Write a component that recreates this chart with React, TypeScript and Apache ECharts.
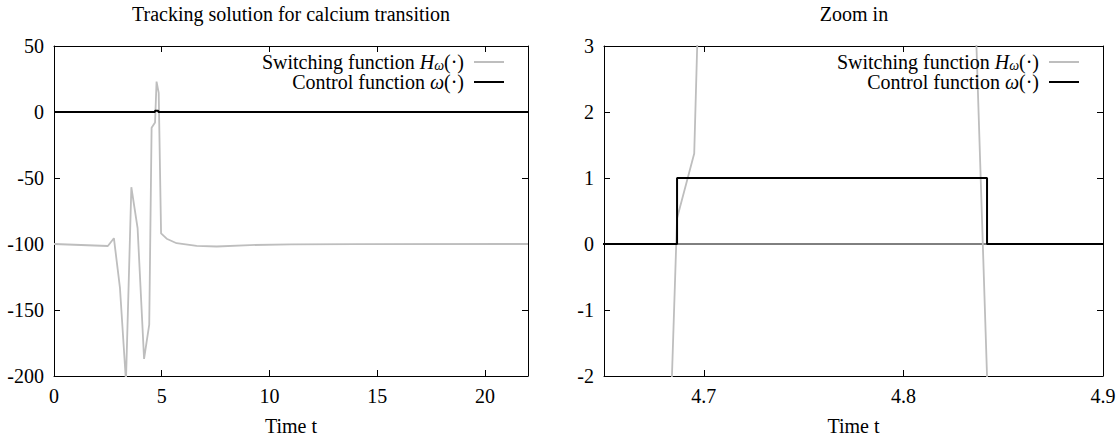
import React, { useEffect, useRef } from 'react';
import * as echarts from 'echarts';

const titles = ['Tracking solution for calcium transition', 'Zoom in'];
const xAxisName = 'Time t';
const seriesNames = ['Switching function', 'Control function'];

// Switching function H_ω over the whole time horizon
const switchT = [0, 2.5, 2.78, 3.06, 3.34, 3.59, 3.88, 4.18, 4.42, 4.53, 4.69, 4.76, 4.86, 4.97, 5.23, 5.69, 6.62, 7.55, 9.1, 11, 14, 22];
const switchH = [-100, -101.5, -95.6, -133, -204, -57, -88, -187, -161, -12, -8, 23, 14.5, -92, -96, -99.4, -101.4, -101.9, -100.8, -100.3, -100.1, -100];

// Finer samples of H_ω around the switching interval
const zoomT = [4.6755, 4.6866, 4.6952, 4.7031, 4.76, 4.8313, 4.8472];
const zoomH = [-10, 0.39, 1.37, 10, 23, 8, -7];

// Bang-bang control ω: switched on between the two switching times
const controlT = [0, 4.6866, 4.6866, 4.8419, 4.8419, 22];
const controlW = [0, 0, 1, 1, 0, 0];

// Zero axis of the zoomed panel
const zeroT = [4.65, 4.9];
const zeroV = [0, 0];

const fullRangeX = [0, 22];
const fullRangeY = [-200, 50];
const zoomRangeX = [4.65, 4.9];
const zoomRangeY = [-2, 3];
const fullXTicks = [0, 5, 10, 15, 20];
const zoomXTicks = [4.7, 4.8, 4.9];

const FONT = "'Liberation Serif', serif";
const FS = 20;
const GREY = '#bebebe';

const pairs = (xs: number[], ys: number[]) => xs.map((x, i) => [x, ys[i]]);

export default function App() {
  const ref = useRef<HTMLDivElement>(null);

  useEffect(() => {
    if (!ref.current) return;
    const chart = echarts.init(ref.current, null, { renderer: 'svg' });

    const frame = { show: true, onZero: false, lineStyle: { color: '#000', width: 1 } };
    const tick = { show: true, inside: true, length: 6, lineStyle: { color: '#000', width: 1 } };
    const labelRich = { n: { fontFamily: FONT, fontSize: FS, color: '#000' } };
    const label = { fontFamily: FONT, fontSize: FS, color: '#000', rich: labelRich };

    const xPair = (grid: number, range: number[], ticks: number[], digits: number) => [
      {
        type: 'value', gridIndex: grid, position: 'bottom', min: range[0], max: range[1],
        axisLine: frame,
        axisTick: { ...tick, customValues: ticks },
        axisLabel: { ...label, margin: 10, customValues: ticks, formatter: (v: number) => `{n|${v.toFixed(digits)}}` },
        splitLine: { show: false },
        name: xAxisName, nameLocation: 'middle', nameGap: 40,
        nameTextStyle: { fontFamily: FONT, fontSize: FS, color: '#000' },
      },
      {
        type: 'value', gridIndex: grid, position: 'top', min: range[0], max: range[1],
        axisLine: frame,
        axisTick: { ...tick, customValues: ticks },
        axisLabel: { show: false },
        splitLine: { show: false },
      },
    ];

    const yPair = (grid: number, range: number[], interval: number) => [
      {
        type: 'value', gridIndex: grid, position: 'left', min: range[0], max: range[1], interval,
        axisLine: frame, axisTick: tick,
        axisLabel: { ...label, margin: 10, formatter: (v: number) => `{n|${v}}` },
        splitLine: { show: false },
      },
      {
        type: 'value', gridIndex: grid, position: 'right', min: range[0], max: range[1], interval,
        axisLine: frame, axisTick: tick,
        axisLabel: { show: false },
        splitLine: { show: false },
      },
    ];

    const legendText = (name: string) =>
      name === seriesNames[0]
        ? '{t|Switching function }{i|H}{s|ω}{t|(·)}{g| }'
        : '{t|Control function }{i|ω}{t|(·)}{g| }';

    const rich = {
      t: { fontFamily: FONT, fontSize: FS, lineHeight: 20, color: '#000' },
      i: { fontFamily: FONT, fontSize: FS, lineHeight: 20, fontStyle: 'italic', color: '#000' },
      s: { fontFamily: FONT, fontSize: 14, lineHeight: 8, fontStyle: 'italic', verticalAlign: 'bottom', color: '#000' },
      g: { fontFamily: FONT, fontSize: FS, lineHeight: 20, width: 5 },
    };

    const legend = (right: number) => ({
      orient: 'vertical', right, top: 52, padding: 0, itemGap: 0,
      align: 'right', icon: 'rect', itemWidth: 30, itemHeight: 2,
      selectedMode: false,
      data: [
        { name: seriesNames[0], itemStyle: { color: GREY } },
        { name: seriesNames[1], itemStyle: { color: '#000' } },
      ],
      formatter: legendText,
      textStyle: { fontFamily: FONT, fontSize: FS, rich },
    });

    const line = (name: string, data: number[][], xi: number, yi: number, color: string, width: number, z: number) => ({
      name, type: 'line', xAxisIndex: xi, yAxisIndex: yi, data,
      showSymbol: false, symbol: 'none', z,
      lineStyle: { color, width },
      itemStyle: { color },
      clip: true,
    });

    const titleStyle = { fontFamily: FONT, fontSize: FS, fontWeight: 'normal', color: '#000' };

    chart.setOption({
      animation: false,
      backgroundColor: '#fff',
      textStyle: { fontFamily: FONT, fontSize: FS, color: '#000' },
      title: [
        { text: titles[0], left: 291, top: 4, padding: 0, textAlign: 'center', textStyle: titleStyle },
        { text: titles[1], left: 854, top: 4, padding: 0, textAlign: 'center', textStyle: titleStyle },
      ],
      legend: [legend(616), legend(41)],
      grid: [
        { left: 54, right: 592, top: 46, bottom: 62 },
        { left: 604, right: 17, top: 46, bottom: 62 },
      ],
      xAxis: [...xPair(0, fullRangeX, fullXTicks, 0), ...xPair(1, zoomRangeX, zoomXTicks, 1)],
      yAxis: [...yPair(0, fullRangeY, 50), ...yPair(1, zoomRangeY, 1)],
      series: [
        line(seriesNames[0], pairs(switchT, switchH), 0, 0, GREY, 1.8, 2),
        line(seriesNames[1], pairs(controlT, controlW), 0, 0, '#000', 2, 3),
        line('zero', pairs(zeroT, zeroV), 2, 2, '#000', 1, 1),
        line(seriesNames[0], pairs(zoomT, zoomH), 2, 2, GREY, 1.8, 2),
        line(seriesNames[1], pairs(controlT, controlW), 2, 2, '#000', 2, 3),
      ],
    });

    return () => chart.dispose();
  }, []);

  return (
    <div
      ref={ref}
      style={{ position: 'fixed', left: 0, top: 0, width: 1120, height: 441, background: '#fff' }}
    />
  );
}
